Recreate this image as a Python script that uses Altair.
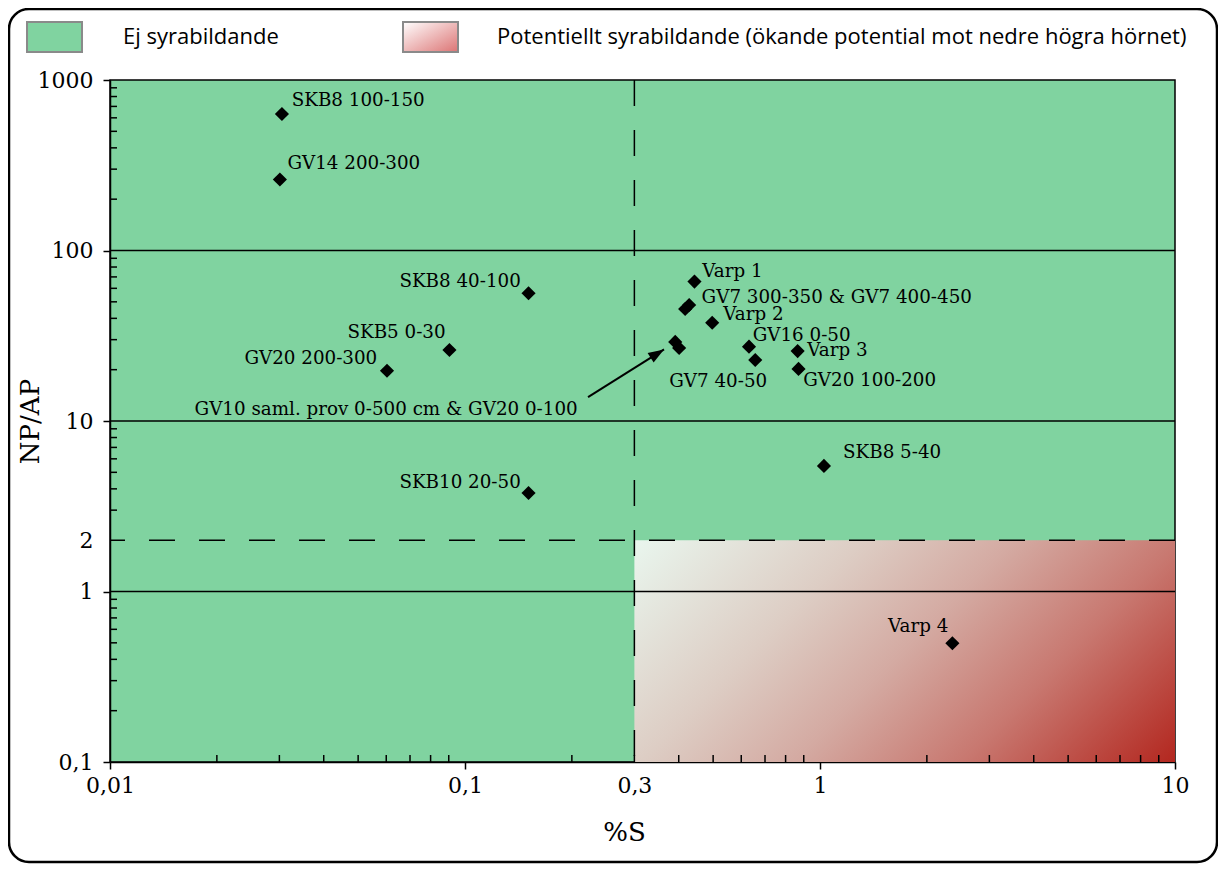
import altair as alt
import pandas as pd

# ---------------- data ----------------
sample_names = ["SKB8 100-150", "GV14 200-300", "SKB8 40-100", "SKB5 0-30", "GV20 200-300",
                "SKB10 20-50", "Varp 1", "GV7 300-350", "GV7 400-450", "Varp 2",
                "GV10 saml. prov 0-500 cm", "GV20 0-100", "GV16 0-50", "GV7 40-50",
                "Varp 3", "GV20 100-200", "SKB8 5-40", "Varp 4"]
s_percent = [0.0305, 0.0301, 0.151, 0.0904, 0.0603, 0.151, 0.443, 0.417, 0.428, 0.497,
             0.391, 0.401, 0.631, 0.657, 0.865, 0.870, 1.026, 2.36]
np_ap = [632, 261, 56.1, 26.1, 19.7, 3.78, 65.7, 45.4, 47.9, 37.7,
         29.1, 26.8, 27.3, 22.8, 25.7, 20.2, 5.45, 0.497]

# labels written to the right of their anchor
labels_left_text = ["SKB8 100-150", "GV14 200-300", "Varp 1", "GV7 300-350 & GV7 400-450",
                    "Varp 2", "GV16 0-50", "Varp 3", "GV20 100-200", "GV7 40-50", "SKB8 5-40"]
labels_left_x = [0.0325, 0.0316, 0.466, 0.464, 0.534, 0.646, 0.921, 0.897, 0.376, 1.161]
labels_left_y = [753, 322, 75.1, 52.4, 41.8, 31.5, 25.8, 17.2, 17.0, 6.49]
# labels written to the left of their anchor
labels_right_text = ["SKB8 40-100", "SKB5 0-30", "GV20 200-300", "SKB10 20-50",
                     "GV10 saml. prov 0-500 cm & GV20 0-100", "Varp 4"]
labels_right_x = [0.1436, 0.0882, 0.0566, 0.1436, 0.2077, 2.298]
labels_right_y = [65.7, 32.95, 23.1, 4.33, 11.6, 0.622]

arrow_from = [0.2221, 13.8]
arrow_to = [0.3636, 26.3]

x_domain = [0.01, 10]
y_domain = [0.1, 1000]
x_ticks = [0.01, 0.1, 0.3, 1, 10]
y_ticks = [0.1, 1, 2, 10, 100, 1000]
s_threshold = 0.3
npap_threshold = 2
solid_lines_y = [1, 10, 100]
minor_x = [m * 10.0 ** e for e in (-2, -1, 0) for m in range(2, 10)]
minor_y = [m * 10.0 ** e for e in (-1, 0, 1, 2) for m in range(2, 10) if not (e == 0 and m == 2)]

legend_labels = ["Ej syrabildande",
                 "Potentiellt syrabildande (ökande potential mot nedre högra hörnet)"]

# ---------------- styling ----------------
W, H = 1065, 682
GREEN = "#80d3a0"
SERIF = "DejaVu Serif"
SANS = "Open Sans"

xs = alt.Scale(type="log", domain=x_domain, nice=False)
ys = alt.Scale(type="log", domain=y_domain, nice=False)

lab_expr = "replace(format(datum.value, '~g'), '.', ',')"
xaxis = alt.Axis(values=x_ticks, title="%S", labelExpr=lab_expr, grid=False,
                 tickSize=7, tickWidth=1.5, tickColor="black",
                 domainColor="black", domainWidth=1.5,
                 labelFont=SERIF, labelFontSize=22, labelColor="black", labelPadding=6,
                 labelFlush=False, labelOverlap=False,
                 titleFont=SERIF, titleFontSize=26, titleFontWeight="normal", titleColor="black",
                 titleX=514, titleY=70, titleBaseline="middle",
                 tickOpacity={"condition": {"test": "datum.value == 0.3", "value": 0}, "value": 1})
yaxis = alt.Axis(values=y_ticks, title="NP/AP", labelExpr=lab_expr, grid=False,
                 tickSize=7, tickWidth=1.5, tickColor="black",
                 domainColor="black", domainWidth=1.5,
                 labelFont=SERIF, labelFontSize=22, labelColor="black", labelPadding=10,
                 labelFlush=False, labelOverlap=False,
                 titleFont=SERIF, titleFontSize=26, titleFontWeight="normal", titleColor="black",
                 titleAngle=270, titleX=-80, titleY=341, titleAlign="center", titleBaseline="middle",
                 tickOpacity={"condition": {"test": "datum.value == 2", "value": 0}, "value": 1})

# ---------------- layers ----------------
zone = pd.DataFrame({"x": [s_threshold], "x2": [x_domain[1]], "y": [y_domain[0]], "y2": [npap_threshold]})
zone_grad = alt.LinearGradient(
    gradient="linear", x1=0, y1=0, x2=1.207, y2=0.495,
    stops=[alt.GradientStop(offset=0, color="#e9f6ee"),
           alt.GradientStop(offset=0.3, color="#ddcdc4"),
           alt.GradientStop(offset=0.5, color="#d4aaa2"),
           alt.GradientStop(offset=0.72, color="#c87870"),
           alt.GradientStop(offset=1, color="#b3271f")])
zone_layer = alt.Chart(zone).mark_rect(color=zone_grad).encode(
    x=alt.X("x:Q", scale=xs, axis=xaxis), x2="x2:Q",
    y=alt.Y("y:Q", scale=ys, axis=yaxis), y2="y2:Q")

hlines = alt.Chart(pd.DataFrame({"v": solid_lines_y})).mark_rule(
    color="black", strokeWidth=1.5).encode(y=alt.Y("v:Q", scale=ys))

dash_h = alt.Chart(pd.DataFrame({"v": [npap_threshold]})).mark_rule(
    color="black", strokeWidth=1.5, strokeDash=[26, 24]).encode(y=alt.Y("v:Q", scale=ys))
dash_v = alt.Chart(pd.DataFrame({"v": [s_threshold]})).mark_rule(
    color="black", strokeWidth=1.5, strokeDash=[26, 24]).encode(x=alt.X("v:Q", scale=xs))

minor_y_layer = alt.Chart(pd.DataFrame({"v": minor_y})).mark_rule(
    color="black", strokeWidth=1.5).encode(
    y=alt.Y("v:Q", scale=ys), x=alt.value(0), x2=alt.value(7))
minor_x_layer = alt.Chart(pd.DataFrame({"v": minor_x})).mark_rule(
    color="black", strokeWidth=1.5).encode(
    x=alt.X("v:Q", scale=xs), y=alt.value(H), y2=alt.value(H - 7))

arrow_df = pd.DataFrame({"x": [arrow_from[0]], "y": [arrow_from[1]],
                         "x2": [arrow_to[0]], "y2": [arrow_to[1]]})
arrow_line = alt.Chart(arrow_df).mark_rule(color="black", strokeWidth=2).encode(
    x=alt.X("x:Q", scale=xs), y=alt.Y("y:Q", scale=ys), x2="x2:Q", y2="y2:Q")
arrow_head = alt.Chart(arrow_df).mark_point(
    shape="M0,0L-0.36,1L0.36,1Z", filled=True, color="black", opacity=1,
    size=1000, angle=58).encode(
    x=alt.X("x2:Q", scale=xs), y=alt.Y("y2:Q", scale=ys))

pts = pd.DataFrame({"name": sample_names, "s": s_percent, "npap": np_ap})
points = alt.Chart(pts).mark_point(shape="diamond", filled=True, color="black",
                                   opacity=1, size=200).encode(
    x=alt.X("s:Q", scale=xs), y=alt.Y("npap:Q", scale=ys))

ll = pd.DataFrame({"t": labels_left_text, "x": labels_left_x, "y": labels_left_y})
lr = pd.DataFrame({"t": labels_right_text, "x": labels_right_x, "y": labels_right_y})
text_left = alt.Chart(ll).mark_text(align="left", baseline="middle", font=SERIF,
                                    fontSize=18.3, color="black").encode(
    x=alt.X("x:Q", scale=xs), y=alt.Y("y:Q", scale=ys), text="t:N")
text_right = alt.Chart(lr).mark_text(align="right", baseline="middle", font=SERIF,
                                     fontSize=18.3, color="black").encode(
    x=alt.X("x:Q", scale=xs), y=alt.Y("y:Q", scale=ys), text="t:N")

# legend (drawn above the plot area)
one = pd.DataFrame({"a": [legend_labels[0]], "b": [legend_labels[1]]})
leg_green = alt.Chart(one).mark_rect(fill=GREEN, stroke="#8a8a8a", strokeWidth=2).encode(
    x=alt.value(-83), x2=alt.value(-28), y=alt.value(-58), y2=alt.value(-28))
leg_grad = alt.LinearGradient(
    gradient="linear", x1=0, y1=0, x2=1, y2=1,
    stops=[alt.GradientStop(offset=0, color="#ffffff"),
           alt.GradientStop(offset=1, color="#dc7474")])
leg_red = alt.Chart(one).mark_rect(fill=leg_grad, stroke="#8a8a8a", strokeWidth=2).encode(
    x=alt.value(293), x2=alt.value(348), y=alt.value(-58), y2=alt.value(-28))
leg_t1 = alt.Chart(one).mark_text(align="left", baseline="middle", font=SANS, fontSize=22,
                                  color="black").encode(
    x=alt.value(13), y=alt.value(-43), text="a:N")
leg_t2 = alt.Chart(one).mark_text(align="left", baseline="middle", font=SANS, fontSize=22,
                                  color="black").encode(
    x=alt.value(387), y=alt.value(-43), text="b:N")

frame = alt.Chart(one).mark_rect(fillOpacity=0, stroke="black", strokeWidth=2.5,
                                 cornerRadius=20).encode(
    x=alt.value(-101), x2=alt.value(1107), y=alt.value(-71), y2=alt.value(782))

chart = alt.layer(
    zone_layer, hlines, dash_h, dash_v, minor_y_layer, minor_x_layer,
    arrow_line, arrow_head, points, text_left, text_right,
    leg_green, leg_red, leg_t1, leg_t2, frame
).properties(
    width=W, height=H,
    padding={"left": 102, "top": 72, "right": 43, "bottom": 102},
    autosize=alt.AutoSizeParams(type="none"),
    background="white",
).configure_view(fill=GREEN, stroke="black", strokeWidth=1.5)

chart.save("out.html", embed_options={"renderer": "svg", "actions": False})
